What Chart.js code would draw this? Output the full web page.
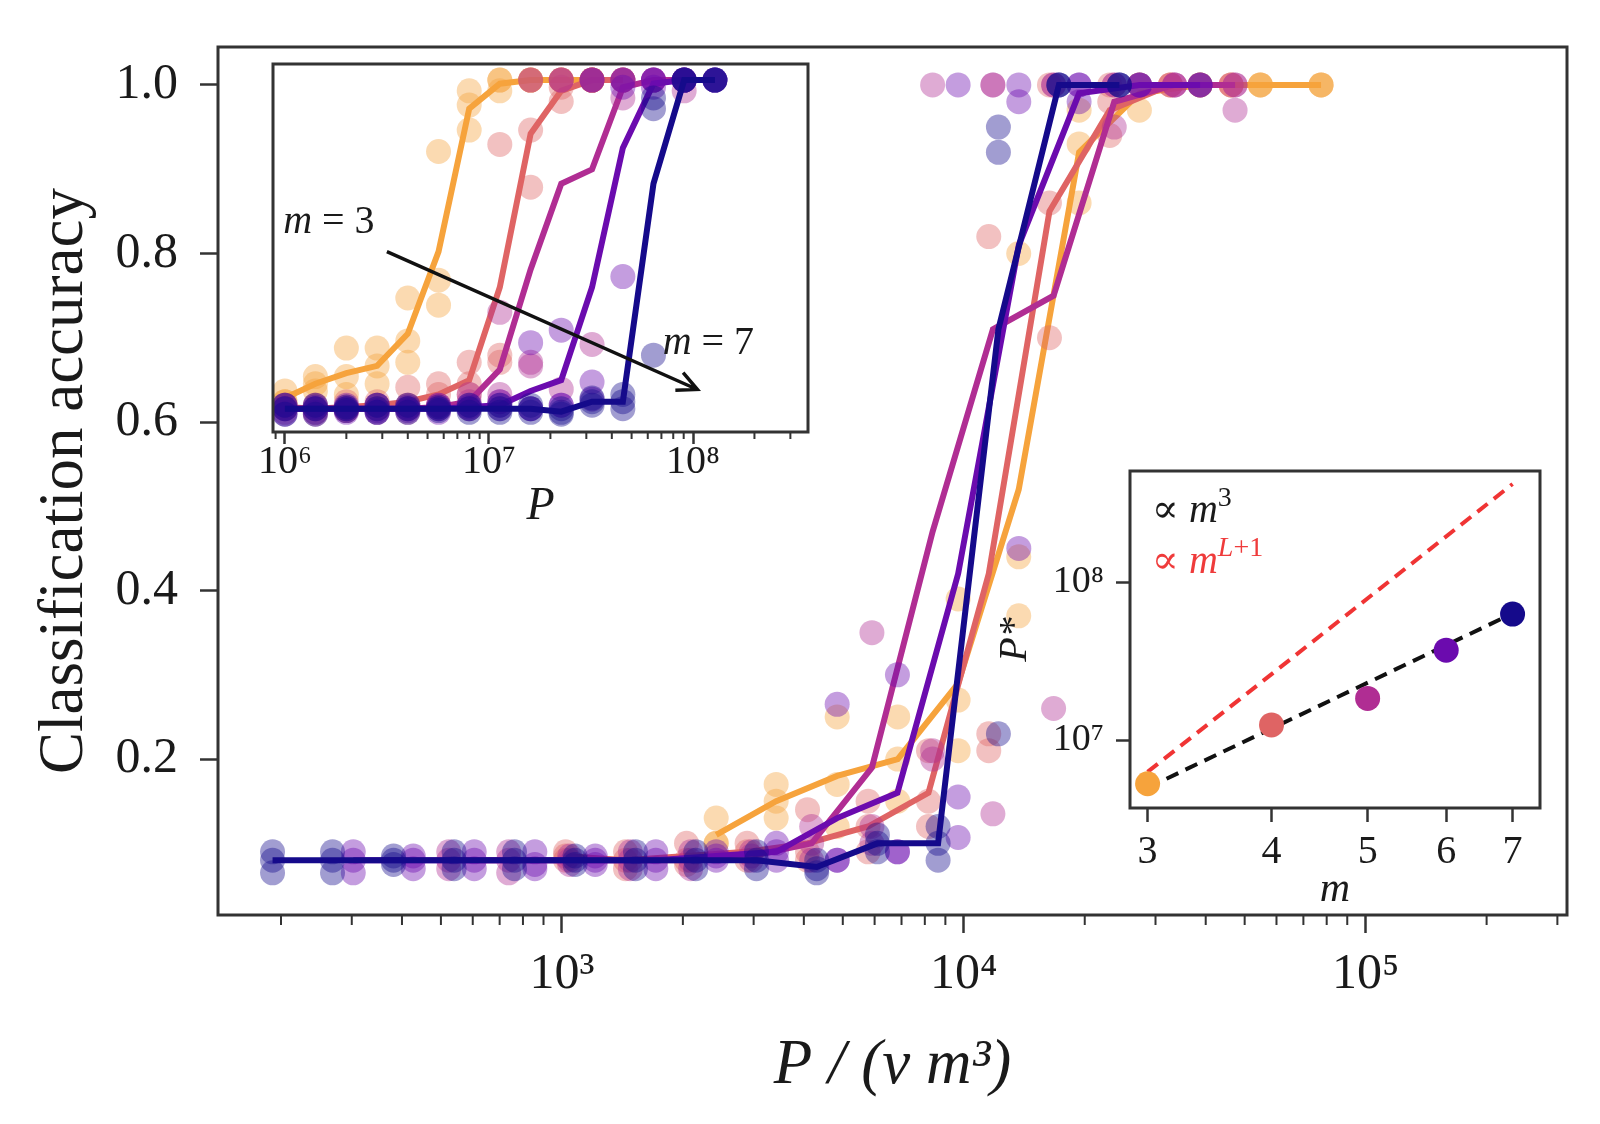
<!DOCTYPE html>
<html>
<head>
<meta charset="utf-8">
<script src="https://cdn.jsdelivr.net/npm/chart.js@4.4.1/dist/chart.umd.min.js"></script>
<style>
  html, body { margin: 0; padding: 0; background: #fff; }
  #wrap { position: relative; width: 1600px; height: 1124px; overflow: hidden; }
  #wrap canvas { position: absolute; }
</style>
</head>
<body>
<div id="wrap">
  <canvas id="main" width="1600" height="1124" style="left:0;top:0"></canvas>
  <canvas id="inset1" width="590" height="500" style="left:240px;top:50px"></canvas>
  <canvas id="inset2" width="600" height="480" style="left:980px;top:440px"></canvas>
</div>
<script>
// ---------------------------------------------------------------
// data
// ---------------------------------------------------------------
const mValues = [3, 4, 5, 6, 7];
const lineColors = ['#f6a33c', '#df6464', '#b02d93', '#6b0bae', '#150a8b'];

// training set sizes P (same grid for every m, shorter for small m)
const trainSizes = [1.0e6, 1.41e6, 2.0e6, 2.83e6, 4.0e6, 5.66e6, 8.0e6, 1.13e7,
                    1.6e7, 2.26e7, 3.2e7, 4.53e7, 6.4e7, 9.05e7, 1.28e8];
// v in the rescaled axis P / (v m^3)
const vFactor = 15.3;

// mean accuracy (lines)
const meanM3 = [0.11, 0.15, 0.18, 0.20, 0.29, 0.52, 0.92, 0.99, 1.0, 1.0, 1.0];
const meanM4 = [0.085, 0.08, 0.085, 0.09, 0.10, 0.12, 0.16, 0.42, 0.85, 0.97, 1.0, 1.0];
const meanM5 = [0.08, 0.08, 0.08, 0.08, 0.08, 0.085, 0.10, 0.19, 0.47, 0.71, 0.75, 0.98, 1.0, 1.0];
const meanM6 = [0.08, 0.08, 0.08, 0.08, 0.08, 0.08, 0.085, 0.09, 0.13, 0.16, 0.42, 0.81, 0.99, 1.0, 1.0];
const meanM7 = [0.08, 0.08, 0.08, 0.08, 0.08, 0.08, 0.08, 0.08, 0.08, 0.072, 0.10, 0.10, 0.71, 1.0, 1.0];

// single runs (transparent dots)
const runsM3 = [
    [0.13, 0.17, 0.25, 0.25, 0.39, 0.80, 0.97, 1.0, 1.0, 1.0, 1.0],
    [0.10, 0.15, 0.17, 0.20, 0.27, 0.44, 0.93, 1.0, 1.0, 1.0, 1.0],
    [0.10, 0.13, 0.12, 0.15, 0.21, 0.37, 0.86, 0.97, 1.0, 1.0, 1.0]
];
const runsM4 = [
    [0.09, 0.09, 0.10, 0.10, 0.14, 0.15, 0.21, 0.82, 1.0, 1.0, 1.0, 1.0],
    [0.085, 0.08, 0.08, 0.09, 0.09, 0.12, 0.15, 0.23, 0.86, 0.98, 1.0, 1.0],
    [0.08, 0.07, 0.075, 0.08, 0.08, 0.09, 0.12, 0.21, 0.70, 0.94, 1.0, 1.0]
];
const runsM5 = [
    [0.09, 0.09, 0.085, 0.09, 0.09, 0.09, 0.12, 0.35, 1.0, 1.0, 1.0, 1.0, 1.0, 1.0],
    [0.08, 0.08, 0.08, 0.08, 0.08, 0.085, 0.10, 0.12, 0.21, 1.0, 1.0, 1.0, 1.0, 1.0],
    [0.07, 0.065, 0.075, 0.07, 0.07, 0.08, 0.08, 0.10, 0.20, 0.135, 0.26, 0.95, 1.0, 0.97]
];
const runsM6 = [
    [0.09, 0.085, 0.09, 0.09, 0.085, 0.09, 0.09, 0.10, 0.265, 0.30, 1.0, 1.0, 1.0, 1.0, 1.0],
    [0.08, 0.08, 0.08, 0.075, 0.08, 0.08, 0.085, 0.09, 0.08, 0.09, 0.155, 0.98, 1.0, 1.0, 1.0],
    [0.065, 0.07, 0.07, 0.07, 0.075, 0.07, 0.08, 0.08, 0.08, 0.09, 0.107, 0.45, 0.98, 1.0, 1.0]
];
const runsM7 = [
    [0.09, 0.09, 0.085, 0.09, 0.09, 0.085, 0.09, 0.09, 0.09, 0.08, 0.11, 0.12, 0.95, 1.0, 1.0],
    [0.08, 0.08, 0.08, 0.08, 0.08, 0.08, 0.08, 0.08, 0.08, 0.07, 0.10, 0.10, 0.92, 1.0, 1.0],
    [0.065, 0.065, 0.075, 0.07, 0.07, 0.075, 0.07, 0.07, 0.07, 0.065, 0.09, 0.08, 0.23, 1.0, 1.0]
];

// lower right inset: transition point P* against m
const pStar = [5.3e6, 1.25e7, 1.84e7, 3.72e7, 6.3e7];
const fitM = [3, 7];
const fitCubic = [5.0e6, 6.35e7];   // ∝ m^3
const fitDepth = [6.3e6, 4.2e8];    // ∝ m^(L+1)

// ticks
const mainXTicks = [1e3, 1e4, 1e5];
const mainXMinor = [200, 300, 400, 500, 600, 700, 800, 900,
                    2e3, 3e3, 4e3, 5e3, 6e3, 7e3, 8e3, 9e3,
                    2e4, 3e4, 4e4, 5e4, 6e4, 7e4, 8e4, 9e4, 2e5, 3e5];
const mainYTicks = [0.2, 0.4, 0.6, 0.8, 1.0];
const insetXTicks = [1e6, 1e7, 1e8];
const insetXMinor = [9e5, 2e6, 3e6, 4e6, 5e6, 6e6, 7e6, 8e6, 9e6,
                     2e7, 3e7, 4e7, 5e7, 6e7, 7e7, 8e7, 9e7, 2e8, 3e8];
const starXTicks = [3, 4, 5, 6, 7];
const starYTicks = [1e7, 1e8];

// ---------------------------------------------------------------
// helpers
// ---------------------------------------------------------------
const SERIF = '"Liberation Serif", "DejaVu Serif", serif';
const INK = '#1a1a1a';
const FRAME = '#333333';
Chart.defaults.font.family = SERIF;
Chart.defaults.color = INK;

const seriesList = [
    { m: 3, mean: meanM3, runs: runsM3 },
    { m: 4, mean: meanM4, runs: runsM4 },
    { m: 5, mean: meanM5, runs: runsM5 },
    { m: 6, mean: meanM6, runs: runsM6 },
    { m: 7, mean: meanM7, runs: runsM7 }
];

function withAlpha(hex, a) {
    const n = parseInt(hex.slice(1), 16);
    return `rgba(${(n >> 16) & 255},${(n >> 8) & 255},${n & 255},${a})`;
}

const SUP = { '0': '⁰', '1': '¹', '2': '²', '3': '³', '4': '⁴', '5': '⁵', '6': '⁶', '7': '⁷', '8': '⁸', '9': '⁹' };
function powerLabel(v) {
    const e = String(Math.round(Math.log10(v)));
    return '10' + e.split('').map(c => SUP[c]).join('');
}

function buildDatasets(xOf) {
    const sets = [];
    seriesList.forEach(s => {
        const col = lineColors[mValues.indexOf(s.m)];
        const rank = 7 - s.m;   // m = 7 drawn on top
        sets.push({
            label: 'm = ' + s.m,
            data: s.mean.map((v, k) => ({ x: xOf(trainSizes[k], s.m), y: v })),
            showLine: true,
            borderColor: col,
            borderWidth: 6,
            pointRadius: 0,
            order: rank * 2
        });
        sets.push({
            label: 'runs m = ' + s.m,
            data: s.runs.flatMap(run => run.map((v, k) => ({ x: xOf(trainSizes[k], s.m), y: v }))),
            showLine: false,
            backgroundColor: withAlpha(col, 0.4),
            borderWidth: 0,
            pointRadius: 12.5,
            order: rank * 2 + 1
        });
    });
    return sets;
}

// frame round the plot area, white fill and minor ticks on the x axis
function makeFrame(cfg) {
    return {
        id: 'frame',
        beforeDraw(chart) {
            if (!cfg.fill) return;
            const { ctx, chartArea: a } = chart;
            ctx.save();
            ctx.fillStyle = cfg.fill;
            ctx.fillRect(a.left, a.top, a.right - a.left, a.bottom - a.top);
            ctx.restore();
        },
        afterDraw(chart) {
            const { ctx, chartArea: a } = chart;
            ctx.save();
            ctx.strokeStyle = FRAME;
            if (cfg.minor) {
                const sc = chart.scales.x;
                ctx.lineWidth = 2;
                ctx.beginPath();
                cfg.minor.forEach(v => {
                    const px = sc.getPixelForValue(v);
                    ctx.moveTo(px, a.bottom);
                    ctx.lineTo(px, a.bottom + cfg.minorLen);
                });
                ctx.stroke();
            }
            ctx.lineWidth = cfg.width;
            ctx.strokeRect(a.left, a.top, a.right - a.left, a.bottom - a.top);
            ctx.restore();
        }
    };
}

// text with italic pieces and superscripts
function drawMath(ctx, parts, x, y, size, color) {
    ctx.save();
    ctx.fillStyle = color;
    ctx.textBaseline = 'alphabetic';
    ctx.textAlign = 'left';
    let cx = x;
    parts.forEach(p => {
        const s = p.sup ? size * 0.7 : size;
        ctx.font = `${p.it ? 'italic ' : ''}${s}px ${SERIF}`;
        ctx.fillText(p.t, cx, p.sup ? y - size * 0.42 : y);
        cx += ctx.measureText(p.t).width;
    });
    ctx.restore();
}

function tickGrid(len) {
    return { drawOnChartArea: false, drawTicks: true, tickLength: len, tickWidth: 2.5, tickColor: FRAME };
}

// ---------------------------------------------------------------
// main panel
// ---------------------------------------------------------------
new Chart(document.getElementById('main'), {
    type: 'scatter',
    data: { datasets: buildDatasets((P, m) => P / (vFactor * m * m * m)) },
    options: {
        responsive: false,
        animation: false,
        layout: { padding: { left: 0, top: 41, right: 33, bottom: 0 } },
        plugins: { legend: { display: false }, tooltip: { enabled: false } },
        scales: {
            x: {
                type: 'logarithmic',
                min: 139.4,
                max: 3.17e5,
                afterBuildTicks: s => { s.ticks = mainXTicks.map(v => ({ value: v })); },
                afterFit: s => { s.height = 209; },
                border: { display: false },
                grid: tickGrid(18),
                ticks: {
                    callback: v => powerLabel(v),
                    font: { size: 50, lineHeight: 1 },
                    padding: 17,
                    maxRotation: 0,
                    autoSkip: false
                },
                title: {
                    display: true,
                    text: 'P / (v m³)',
                    font: { size: 63, style: 'italic', lineHeight: 1.2 },
                    padding: { top: 0, bottom: 20 }
                }
            },
            y: {
                type: 'linear',
                min: 0.015,
                max: 1.045,
                afterBuildTicks: s => { s.ticks = mainYTicks.map(v => ({ value: v })); },
                afterFit: s => { s.width = 218; },
                border: { display: false },
                grid: tickGrid(18),
                ticks: {
                    callback: v => v.toFixed(1),
                    font: { size: 50, lineHeight: 1 },
                    padding: 22
                },
                title: {
                    display: true,
                    text: 'Classification accuracy',
                    font: { size: 63, lineHeight: 1.2 },
                    padding: { top: 28, bottom: 0 }
                }
            }
        }
    },
    plugins: [makeFrame({ width: 3, minor: mainXMinor, minorLen: 10 })]
});

// ---------------------------------------------------------------
// upper left inset: accuracy against P
// ---------------------------------------------------------------
const arrowFrom = [3.16e6, 0.52];
const arrowTo = [1.05e8, 0.134];
const noteM3At = [0.98e6, 0.571];
const noteM7At = [7.1e7, 0.232];

const inset1Notes = {
    id: 'notes',
    afterDraw(chart) {
        const { ctx, scales: { x, y } } = chart;
        const x0 = x.getPixelForValue(arrowFrom[0]), y0 = y.getPixelForValue(arrowFrom[1]);
        const x1 = x.getPixelForValue(arrowTo[0]), y1 = y.getPixelForValue(arrowTo[1]);
        const ang = Math.atan2(y1 - y0, x1 - x0);
        ctx.save();
        ctx.strokeStyle = '#111';
        ctx.lineWidth = 3.5;
        ctx.beginPath();
        ctx.moveTo(x0, y0);
        ctx.lineTo(x1, y1);
        ctx.moveTo(x1 - 22 * Math.cos(ang - 0.45), y1 - 22 * Math.sin(ang - 0.45));
        ctx.lineTo(x1, y1);
        ctx.lineTo(x1 - 22 * Math.cos(ang + 0.45), y1 - 22 * Math.sin(ang + 0.45));
        ctx.stroke();
        ctx.restore();
        drawMath(ctx, [{ t: 'm', it: true }, { t: ' = 3' }],
                 x.getPixelForValue(noteM3At[0]), y.getPixelForValue(noteM3At[1]), 40, INK);
        drawMath(ctx, [{ t: 'm', it: true }, { t: ' = 7' }],
                 x.getPixelForValue(noteM7At[0]), y.getPixelForValue(noteM7At[1]), 40, INK);
    }
};

new Chart(document.getElementById('inset1'), {
    type: 'scatter',
    data: { datasets: buildDatasets(P => P) },
    options: {
        responsive: false,
        animation: false,
        layout: { padding: { left: 33, top: 14, right: 22, bottom: 0 } },
        plugins: { legend: { display: false }, tooltip: { enabled: false } },
        scales: {
            x: {
                type: 'logarithmic',
                min: 8.74e5,
                max: 3.66e8,
                afterBuildTicks: s => { s.ticks = insetXTicks.map(v => ({ value: v })); },
                afterFit: s => { s.height = 118; },
                border: { display: false },
                grid: tickGrid(12),
                ticks: {
                    callback: v => powerLabel(v),
                    font: { size: 40, lineHeight: 1 },
                    padding: -2,
                    maxRotation: 0,
                    autoSkip: false
                },
                title: {
                    display: true,
                    text: 'P',
                    font: { size: 46, style: 'italic', lineHeight: 1.2 },
                    padding: { top: 0, bottom: 15 }
                }
            },
            y: { type: 'linear', min: 0.015, max: 1.045, display: false }
        }
    },
    plugins: [makeFrame({ width: 3, fill: '#ffffff', minor: insetXMinor, minorLen: 7 }), inset1Notes]
});

// ---------------------------------------------------------------
// lower right inset: P* against m
// ---------------------------------------------------------------
const noteCubicAt = [3.03, 2.4e8];
const noteDepthAt = [3.03, 1.15e8];

const inset2Notes = {
    id: 'notes2',
    afterDraw(chart) {
        const { ctx, scales: { x, y } } = chart;
        drawMath(ctx, [{ t: '∝ ' }, { t: 'm', it: true }, { t: '3', sup: true }],
                 x.getPixelForValue(noteCubicAt[0]), y.getPixelForValue(noteCubicAt[1]), 40, INK);
        drawMath(ctx, [{ t: '∝ ' }, { t: 'm', it: true }, { t: 'L', it: true, sup: true }, { t: '+1', sup: true }],
                 x.getPixelForValue(noteDepthAt[0]), y.getPixelForValue(noteDepthAt[1]), 40, '#ef3b3b');
    }
};

new Chart(document.getElementById('inset2'), {
    type: 'scatter',
    data: {
        datasets: [
            {
                label: 'P*',
                data: mValues.map((m, i) => ({ x: m, y: pStar[i] })),
                backgroundColor: lineColors,
                borderWidth: 0,
                pointRadius: 12.5,
                order: 0
            },
            {
                label: '∝ m^3',
                data: fitM.map((m, i) => ({ x: m, y: fitCubic[i] })),
                showLine: true,
                borderColor: '#111111',
                borderWidth: 4,
                borderDash: [13, 8],
                pointRadius: 0,
                order: 1
            },
            {
                label: '∝ m^(L+1)',
                data: fitM.map((m, i) => ({ x: m, y: fitDepth[i] })),
                showLine: true,
                borderColor: '#f03434',
                borderWidth: 4,
                borderDash: [13, 8],
                pointRadius: 0,
                order: 2
            }
        ]
    },
    options: {
        responsive: false,
        animation: false,
        layout: { padding: { left: 0, top: 20, right: 40, bottom: 0 } },
        plugins: { legend: { display: false }, tooltip: { enabled: false } },
        scales: {
            x: {
                type: 'logarithmic',
                min: 2.88,
                max: 7.46,
                afterBuildTicks: s => { s.ticks = starXTicks.map(v => ({ value: v })); },
                afterFit: s => { s.height = 112; },
                border: { display: false },
                grid: tickGrid(14),
                ticks: {
                    callback: v => String(v),
                    font: { size: 40, lineHeight: 1 },
                    padding: 10,
                    maxRotation: 0,
                    autoSkip: false
                },
                title: {
                    display: true,
                    text: 'm',
                    font: { size: 42, style: 'italic', lineHeight: 1.2 },
                    padding: { top: 0, bottom: 5 }
                }
            },
            y: {
                type: 'logarithmic',
                min: 3.72e6,
                max: 5.08e8,
                afterBuildTicks: s => { s.ticks = starYTicks.map(v => ({ value: v })); },
                afterFit: s => { s.width = 150; },
                border: { display: false },
                grid: tickGrid(14),
                ticks: {
                    callback: v => powerLabel(v),
                    font: { size: 38, lineHeight: 1 },
                    padding: 12
                },
                title: {
                    display: true,
                    text: 'P*',
                    font: { size: 40, style: 'italic', lineHeight: 1.2 },
                    padding: { top: 11, bottom: 0 }
                }
            }
        }
    },
    plugins: [makeFrame({ width: 3, fill: '#ffffff' }), inset2Notes]
});
</script>
</body>
</html>
